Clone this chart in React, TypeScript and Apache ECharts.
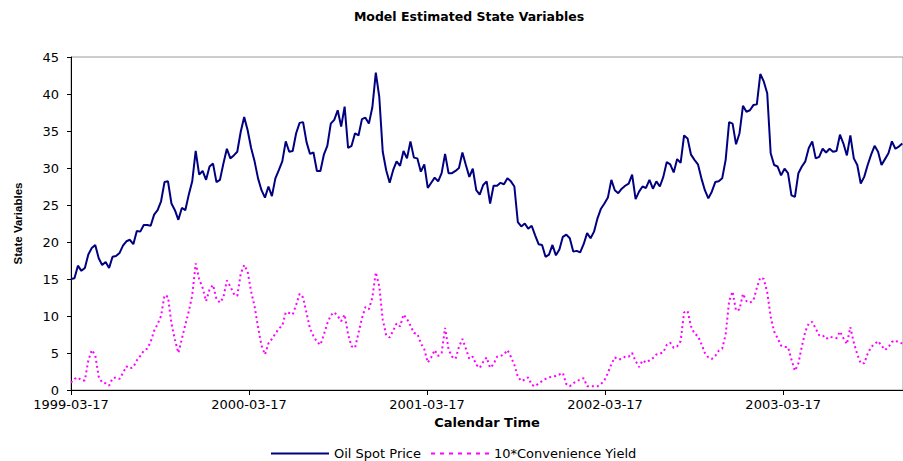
import React, { useEffect, useRef } from "react";
import * as echarts from "echarts";

// Tick labels (one per year, observation index = year * obsPerYear)
const tickLabels = ["1999-03-17", "2000-03-17", "2001-03-17", "2002-03-17", "2003-03-17"];
const obsPerYear = 51.4;
const lastObs = 240.2;

// Oil spot price (weekly observations)
const oilSpot = [
  15.0, 15.1, 16.8, 16.1, 16.5, 18.3, 19.2, 19.6, 17.8, 16.9,
  17.3, 16.5, 18.0, 18.1, 18.5, 19.5, 20.1, 20.3, 19.7, 21.5,
  21.4, 22.3, 22.3, 22.2, 23.7, 24.3, 25.5, 28.1, 28.2, 25.2,
  24.3, 23.0, 24.6, 24.3, 26.4, 28.2, 32.3, 29.1, 29.6, 28.4,
  30.2, 30.6, 28.1, 28.4, 30.6, 32.6, 31.3, 31.7, 32.2, 34.9,
  36.9, 35.1, 32.7, 30.9, 28.6, 27.0, 26.0, 27.5, 26.2, 28.6,
  29.7, 30.9, 33.6, 32.2, 32.3, 34.7, 36.1, 36.2, 33.5, 31.9,
  32.1, 29.6, 29.6, 31.8, 33.0, 36.0, 36.5, 37.8, 35.6, 38.3,
  32.7, 33.0, 34.7, 34.4, 36.6, 36.8, 36.0, 38.2, 42.9, 39.6,
  32.2, 29.7, 28.0, 29.7, 30.9, 30.3, 32.3, 31.3, 33.6, 31.4,
  31.3, 29.5, 30.5, 27.3, 28.0, 28.7, 28.2, 29.3, 31.9, 29.3,
  29.3, 29.6, 30.0, 32.1, 30.4, 28.8, 29.9, 27.0, 26.4, 27.7,
  28.2, 25.2, 27.6, 27.6, 28.0, 27.8, 28.6, 28.2, 27.5, 22.7,
  22.1, 22.5, 21.8, 22.2, 20.9, 19.7, 19.6, 18.0, 18.3, 19.6,
  18.2, 19.0, 20.7, 21.0, 20.5, 18.7, 18.8, 18.6, 19.7, 21.2,
  20.5, 21.4, 23.2, 24.5, 25.2, 26.0, 28.4, 27.0, 26.6, 27.2,
  27.6, 27.9, 29.1, 25.8, 26.8, 27.5, 27.3, 28.4, 27.2, 28.2,
  27.5, 28.8, 30.8, 30.5, 29.4, 31.2, 30.7, 34.4, 34.0, 31.8,
  31.1, 30.5, 28.6, 27.0, 25.9, 26.8, 28.1, 28.2, 28.6, 31.1,
  36.2, 36.0, 33.2, 34.7, 38.4, 37.6, 37.8, 38.5, 38.6, 42.7,
  41.7, 40.1, 32.0, 30.4, 30.2, 29.0, 29.9, 29.3, 26.3, 26.1,
  29.3, 30.2, 30.9, 32.7, 33.6, 31.3, 31.5, 32.6, 32.1, 32.6,
  32.2, 32.3, 34.5, 33.3, 31.7, 34.4, 31.3, 30.4, 27.9, 28.8,
  30.4, 31.8, 33.0, 32.2, 30.4, 31.2, 32.0, 33.6, 32.6, 32.9,
  33.3,
];

// 10 * convenience yield (weekly observations)
const convYield10 = [
  1.0, 1.5, 1.7, 1.3, 1.3, 4.0, 5.4, 4.7, 1.8, 1.0,
  0.9, 0.6, 1.6, 1.7, 1.5, 2.3, 3.2, 2.9, 3.1, 4.0,
  4.6, 5.3, 5.6, 6.5, 8.0, 8.9, 10.0, 12.8, 12.6, 9.0,
  6.8, 5.0, 6.9, 8.8, 10.6, 12.8, 17.1, 15.0, 13.8, 12.0,
  13.6, 14.2, 12.3, 11.8, 12.5, 14.8, 14.0, 13.0, 12.7, 15.7,
  16.9, 16.0, 13.3, 11.3, 8.5, 6.0, 4.8, 6.3, 6.9, 7.6,
  8.3, 8.7, 10.5, 10.4, 10.2, 11.5, 13.0, 12.5, 10.4, 8.3,
  7.3, 6.5, 6.1, 7.5, 9.0, 10.1, 10.5, 10.0, 9.3, 10.2,
  7.5, 5.9, 5.7, 7.7, 9.7, 11.2, 10.9, 12.5, 15.9, 14.0,
  9.5, 7.4, 7.1, 8.0, 9.0, 8.6, 10.2, 9.6, 8.7, 7.7,
  7.6, 6.3, 5.5, 3.7, 4.4, 5.4, 4.6, 5.0, 8.4, 5.5,
  4.5, 4.2, 5.8, 6.9, 5.6, 4.2, 4.5, 3.4, 3.0, 3.8,
  4.4, 3.0, 3.5, 4.5, 4.6, 4.8, 5.4, 4.5, 3.4, 1.8,
  1.2, 1.4, 1.7, 0.7, 0.5, 0.9, 1.2, 1.5, 1.7, 1.8,
  1.9, 2.1, 2.3, 0.8, 0.5, 0.9, 1.2, 1.4, 1.6, 0.5,
  0.5, 0.5, 0.5, 0.8, 1.3, 2.3, 3.5, 4.4, 4.1, 4.2,
  4.5, 4.5, 5.0, 3.9, 3.1, 4.0, 3.7, 4.0, 4.3, 4.8,
  4.9, 5.1, 6.1, 6.4, 5.7, 5.9, 6.6, 10.5, 10.7, 8.6,
  7.6, 7.3, 6.2, 5.0, 4.4, 4.2, 4.6, 5.3, 5.6, 7.5,
  12.0, 13.3, 10.7, 10.9, 13.0, 12.0, 11.8, 12.1, 13.8, 15.2,
  15.0, 13.2, 9.9, 7.9, 7.0, 6.0, 5.8, 5.8, 4.1, 2.6,
  3.6, 5.9, 7.9, 9.0, 9.2, 8.3, 7.4, 7.4, 6.9, 7.2,
  7.1, 7.0, 7.9, 7.0, 6.2, 8.5, 6.4, 4.8, 3.6, 3.6,
  4.9, 5.8, 6.2, 6.6, 6.0, 5.4, 5.8, 6.5, 6.7, 6.4,
  6.3,
];

const seriesNames = ["Oil Spot Price", "10*Convenience Yield"];

export default function App() {
  const ref = useRef<HTMLDivElement>(null);

  useEffect(() => {
    if (!ref.current) return;
    const chart = echarts.init(ref.current, null, { renderer: "svg" });
    const labelFont = "DejaVu Sans";
    chart.setOption({
      animation: false,
      backgroundColor: "#ffffff",
      title: {
        text: "Model Estimated State Variables",
        left: 469,
        top: 10,
        padding: 0,
        textAlign: "center",
        textStyle: { fontFamily: labelFont, fontWeight: "bold", fontSize: 12.5, color: "#000" },
      },
      legend: {
        left: 270,
        top: 447,
        itemWidth: 58,
        itemHeight: 14,
        itemGap: 9,
        padding: 0,
        data: [
          { name: seriesNames[0] },
          { name: seriesNames[1], lineStyle: { type: [4, 5] } },
        ],
        itemStyle: { opacity: 0 },
        textStyle: { fontFamily: labelFont, fontSize: 13, color: "#000" },
      },
      grid: {
        left: 71,
        right: 0,
        top: 57,
        bottom: 71,
        show: true,
        borderColor: "#9a9a9a",
        borderWidth: 1,
        backgroundColor: "transparent",
      },
      xAxis: {
        type: "value",
        min: 0,
        max: lastObs,
        interval: obsPerYear,
        name: "Calendar Time",
        nameLocation: "middle",
        nameGap: 20,
        nameTextStyle: { fontFamily: labelFont, fontWeight: "bold", fontSize: 13, color: "#000" },
        axisLine: { onZero: false, lineStyle: { color: "#000", width: 1 } },
        axisTick: { show: true, length: 5, lineStyle: { color: "#000" } },
        splitLine: { show: false },
        axisLabel: {
          fontFamily: labelFont,
          fontSize: 13,
          color: "#000",
          margin: 8,
          showMaxLabel: false,
          formatter: (v: number) => {
            const k = Math.round(v / obsPerYear);
            return Math.abs(v - k * obsPerYear) < 0.01 && tickLabels[k] ? tickLabels[k] : "";
          },
        },
      },
      yAxis: {
        type: "value",
        min: 0,
        max: 45,
        interval: 5,
        name: "State Variables",
        nameLocation: "middle",
        nameGap: 47,
        nameTextStyle: { fontFamily: "Liberation Sans", fontWeight: "bold", fontSize: 11.5, color: "#000" },
        axisLine: { show: true, lineStyle: { color: "#000", width: 1 } },
        axisTick: { show: true, length: 4, lineStyle: { color: "#000" } },
        splitLine: { show: false },
        axisLabel: { fontFamily: labelFont, fontSize: 13, color: "#000", margin: 12 },
      },
      series: [
        {
          name: seriesNames[0],
          type: "line",
          symbol: "none",
          showSymbol: false,
          data: oilSpot.map((v, i) => [i, v]),
          lineStyle: { color: "#000080", width: 2 },
          itemStyle: { color: "#000080" },
          z: 3,
        },
        {
          name: seriesNames[1],
          type: "line",
          symbol: "none",
          showSymbol: false,
          data: convYield10.map((v, i) => [i, v]),
          lineStyle: { color: "#ff00ff", width: 2, type: [2, 3] },
          itemStyle: { color: "#ff00ff" },
          z: 2,
        },
      ],
    });
    return () => chart.dispose();
  }, []);

  return (
    <div
      ref={ref}
      style={{ position: "fixed", left: 0, top: 0, width: 903, height: 461, background: "#fff" }}
    />
  );
}
